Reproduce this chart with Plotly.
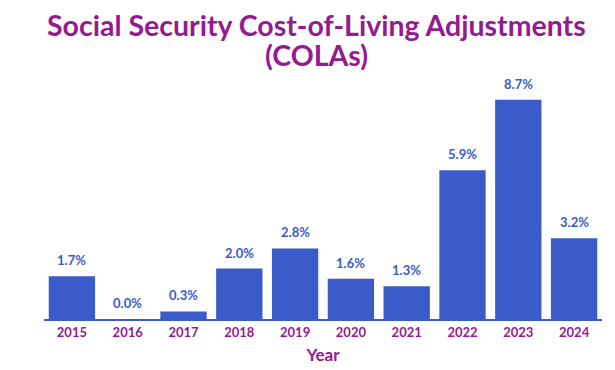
import plotly.graph_objects as go

years = ["2015", "2016", "2017", "2018", "2019", "2020", "2021", "2022", "2023", "2024"]
cola = [1.7, 0.0, 0.3, 2.0, 2.8, 1.6, 1.3, 5.9, 8.7, 3.2]
labels = [f"{v:.1f}%" for v in cola]
title_lines = ["Social Security Cost-of-Living Adjustments", "(COLAs)"]

BLUE = "#3A5BC8"
PURPLE = "#941A92"
FONT = "Lato, 'Noto Sans', sans-serif"

fig = go.Figure(go.Bar(
    x=years, y=cola, marker=dict(color=BLUE, line=dict(width=0)),
    hoverinfo="skip",
))

# category axis: annotation x given as category index
for i, (v, t) in enumerate(zip(cola, labels)):
    fig.add_annotation(x=i, y=v, text=f"<b>{t}</b>", showarrow=False,
                       yanchor="bottom", yshift=6,
                       font=dict(family=FONT, size=13, color=BLUE))

for line, shift in zip(title_lines, [55, 25]):
    fig.add_annotation(xref="paper", yref="paper", x=0.489, y=1, yshift=shift,
                       xanchor="center", yanchor="middle", showarrow=False,
                       text=f"<b>{line}</b>", borderpad=0,
                       font=dict(family=FONT, size=28.5, color=PURPLE))

fig.update_layout(
    width=615, height=370,
    margin=dict(l=36, r=21, t=72, b=59),
    paper_bgcolor="white", plot_bgcolor="white",
    bargap=0.17,
    showlegend=False,
    xaxis=dict(type="category", range=[-0.5, len(years) - 0.5], automargin=False,
               showgrid=False, showline=True, linecolor=BLUE, linewidth=2,
               ticks="", tickfont=dict(family=FONT, size=13, color=PURPLE),
               tickprefix="<b>", ticksuffix="</b>",
               title=dict(text="<b>Year</b>", standoff=11,
                          font=dict(family=FONT, size=17, color=PURPLE))),
    yaxis=dict(visible=False, range=[0, 9.48], automargin=False),
)

fig.write_html("out.html")
